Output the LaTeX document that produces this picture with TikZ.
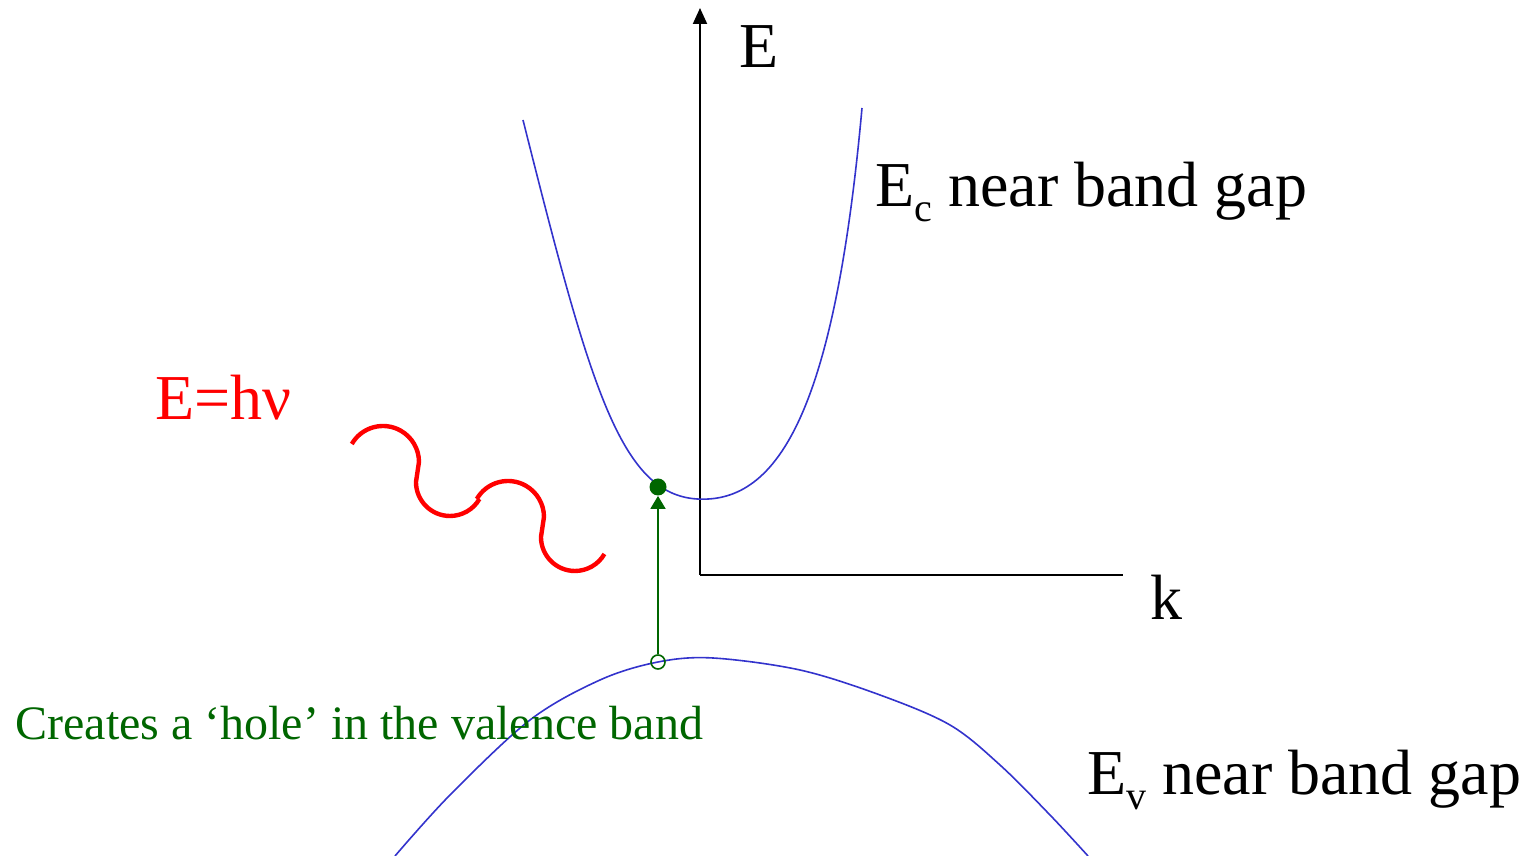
\documentclass[tikz,border=0pt]{standalone}
\usepackage{fontspec}
\setmainfont{Liberation Serif}
\usetikzlibrary{arrows.meta}

\definecolor{bandblue}{RGB}{51,51,204}
\definecolor{darkgreen}{RGB}{0,102,0}
\newcommand{\lowsub}[1]{\raisebox{-0.22em}{\fontsize{20}{20}\selectfont #1}}

\begin{document}
\begin{tikzpicture}[
x=0.5pt, y=0.5pt,
axis/.style={line width=1pt},
band/.style={bandblue, line width=0.8pt},
biglabel/.style={font=\fontsize{32}{36}\selectfont, inner sep=0pt, anchor=base west},
notelabel/.style={font=\fontsize{24}{28}\selectfont, inner sep=0pt, anchor=base west, darkgreen},
photon/.style={red, line width=2.2pt},
excite/.style={-{Triangle[length=6.5pt,width=7.5pt]}, darkgreen, line width=0.9pt} ]

\useasboundingbox (0,0) rectangle (1528,856);

% axes
\coordinate (O) at (700,281);
\coordinate (Etop) at (700,848);
\coordinate (kend) at (1123,281);
\draw[axis, -{Triangle[length=8pt,width=7pt]}] (O) -- (Etop);
\draw[axis] (O) -- (kend);

\node[biglabel](Elab) at (739,788) {E};
\node[biglabel](klab) at (1150,236) {k};

% conduction band
\coordinate (cbl) at (523,736);
\coordinate (cbmin) at (697,357);
\coordinate (cbr) at (862,748);
\draw[band] (cbl) .. controls (590,470) and (620,362) .. (cbmin)
  .. controls (780,352) and (835,450) .. (cbr);

% valence band
\draw[band] plot[smooth, tension=0.55] coordinates {(395,0) (450,61) (530,136) (600,176) (658,194) (713,198) (800,186) (880,161) (950,131) (1000,91) (1050,41) (1088,0)};

\node[biglabel](Eclab) at (875,649) {E\lowsub{c} near band gap};
\node[biglabel](Evlab) at (1087,61) {E\lowsub{v} near band gap};

% electron and hole
\node[circle, fill=darkgreen, inner sep=0pt, minimum size=8.5pt](elec) at (658,369) {};
\node[circle, draw=darkgreen, line width=0.8pt, inner sep=0pt, minimum size=7pt](hole) at (658,194) {};
\draw[excite] (hole.north) -- (elec.south);

\node[notelabel](holelab) at (15,116) {Creates a ‘hole’ in the valence band};

% photon
\foreach \dx/\dy in {0/0, 125/-55}
  \draw[photon, shift={(\dx,\dy)}] (351.8,412) arc[start angle=150, end angle=0, radius=18pt] -- ++(-3,-20) arc[start angle=180, end angle=330, radius=17pt];

\node[biglabel, red](photlab) at (155,436) {E=hν};
\end{tikzpicture}
\end{document}
